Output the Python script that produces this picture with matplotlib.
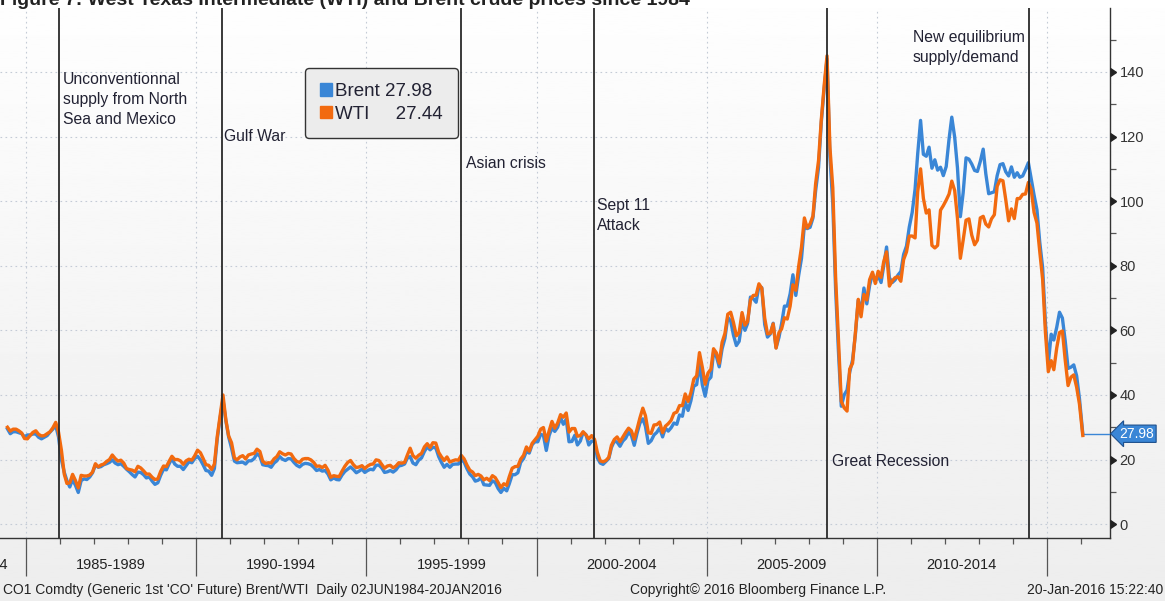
import numpy as np
import pandas as pd
import matplotlib
matplotlib.use('Agg')
import matplotlib.pyplot as plt
import matplotlib.dates as mdates
from matplotlib.patches import Patch

plt.rcParams['font.family'] = ['Liberation Sans', 'DejaVu Sans']

#%% data (monthly), Jun 1984 .. Dec 2015 + 20 Jan 2016
wti = [
    30.0, 28.8, 29.4, 29.4, 28.9, 28.2, 26.5,                               # 1984
    26.4, 27.5, 28.4, 28.9, 27.8, 27.3, 27.4, 28.0, 28.6, 29.8, 31.5, 28.5,  # 1985
    22.9, 15.4, 12.6, 12.8, 15.4, 13.5, 11.2, 15.1, 14.9, 14.9, 15.2, 16.1,  # 1986
    18.7, 17.7, 18.3, 18.6, 19.4, 20.0, 21.4, 20.3, 19.5, 19.8, 18.9, 17.2,  # 1987
    16.9, 16.7, 16.2, 17.9, 17.4, 16.5, 15.5, 15.5, 14.5, 13.8, 14.0, 16.3,  # 1988
    18.0, 17.8, 19.4, 21.0, 20.0, 20.0, 19.6, 18.5, 19.6, 20.1, 19.8, 21.1,  # 1989
    22.9, 22.1, 20.4, 18.4, 18.2, 16.9, 18.6, 27.2, 33.7, 40.0, 32.3, 27.3,  # 1990
    25.2, 20.5, 19.9, 20.8, 21.2, 20.2, 21.4, 21.7, 21.9, 23.2, 22.5, 19.5,  # 1991
    18.8, 19.0, 18.9, 20.2, 20.9, 22.4, 21.8, 21.4, 21.9, 21.7, 20.3, 19.4,  # 1992
    19.1, 20.1, 20.3, 20.3, 19.9, 19.1, 17.9, 18.0, 17.5, 18.2, 16.7, 14.5,  # 1993
    15.0, 14.8, 14.7, 16.4, 17.9, 19.1, 19.7, 18.4, 17.5, 17.7, 18.1, 17.2,  # 1994
    18.0, 18.5, 18.6, 19.9, 19.7, 18.5, 17.3, 18.0, 18.2, 17.4, 18.0, 19.0,  # 1995
    18.9, 19.1, 21.3, 23.5, 21.2, 20.4, 21.3, 21.9, 23.9, 24.9, 23.7, 25.2,  # 1996
    25.1, 22.2, 20.9, 19.7, 20.8, 19.2, 19.6, 19.9, 19.8, 21.3, 20.2, 18.3,  # 1997
    16.7, 16.1, 15.0, 15.4, 14.9, 13.7, 14.2, 13.5, 15.0, 14.4, 12.9, 11.3,  # 1998
    12.5, 12.0, 14.7, 17.3, 17.8, 17.9, 20.1, 21.3, 23.9, 22.6, 25.0, 26.1,  # 1999
    27.2, 29.4, 29.9, 25.7, 28.8, 31.8, 29.7, 31.3, 33.9, 33.1, 34.4, 28.5,  # 2000
    29.6, 29.6, 27.2, 27.4, 28.6, 27.6, 26.4, 27.4, 26.2, 22.2, 19.6, 19.3,  # 2001
    19.7, 20.7, 24.4, 26.2, 27.0, 25.5, 26.9, 28.4, 29.7, 28.9, 26.3, 29.4,  # 2002
    32.9, 35.9, 33.6, 28.3, 28.1, 30.7, 30.8, 31.6, 28.3, 30.3, 31.1, 32.1,  # 2003
    34.3, 34.7, 36.7, 36.7, 40.3, 38.0, 40.7, 44.9, 45.9, 53.1, 48.5, 43.3,  # 2004
    46.8, 48.0, 54.3, 53.0, 49.8, 56.3, 59.0, 65.0, 65.6, 62.4, 58.3, 59.4,  # 2005
    65.5, 61.6, 62.7, 69.4, 70.8, 70.9, 74.4, 73.0, 63.8, 58.9, 59.1, 62.0,  # 2006
    54.5, 59.3, 60.4, 63.9, 63.5, 67.5, 74.1, 72.4, 79.9, 85.8, 94.8, 91.7,  # 2007
    93.0, 95.4, 105.5, 112.6, 125.4, 136.0, 145.0, 116.7, 104.1, 76.6, 57.3, 38.0,  # 2008
    36.0, 35.0, 48.0, 49.8, 59.1, 69.6, 64.2, 71.1, 69.4, 75.7, 78.0, 74.5,  # 2009
    78.3, 76.4, 81.2, 84.3, 73.7, 75.3, 76.3, 76.6, 75.2, 81.9, 84.3, 89.2,  # 2010
    89.2, 88.6, 102.9, 110.0, 100.9, 96.3, 97.3, 86.3, 85.5, 86.3, 97.2, 98.6,  # 2011
    100.3, 102.2, 106.2, 103.3, 94.7, 82.3, 87.9, 94.1, 94.5, 89.5, 86.5, 87.9,  # 2012
    94.8, 95.3, 92.9, 92.0, 94.5, 95.8, 104.6, 106.6, 106.3, 100.5, 93.9, 97.6,  # 2013
    94.6, 100.8, 100.8, 102.1, 102.2, 105.8, 103.6, 96.5, 93.2, 84.4, 75.8, 59.3,  # 2014
    47.2, 50.6, 47.8, 54.5, 59.3, 59.8, 50.9, 42.9, 45.5, 46.2, 42.4, 37.2,  # 2015
    27.44,                                                                   # 20 Jan 2016
]

brent = [
    29.5, 28.0, 28.6, 28.6, 28.3, 28.0, 27.0,                               # 1984
    27.6, 27.6, 27.9, 27.9, 26.9, 26.4, 26.9, 27.4, 28.5, 29.4, 30.5, 27.0,  # 1985
    20.0, 16.0, 13.5, 11.5, 13.8, 12.0, 9.8, 13.5, 14.0, 13.8, 14.6, 15.9,   # 1986
    18.3, 17.6, 17.8, 18.4, 18.7, 19.1, 19.9, 18.9, 18.4, 18.7, 17.9, 17.0,  # 1987
    16.2, 15.3, 14.6, 16.1, 16.0, 15.3, 14.3, 14.6, 13.3, 12.3, 12.8, 15.1,  # 1988
    17.0, 16.8, 18.6, 20.3, 18.6, 17.9, 17.9, 16.9, 18.1, 19.3, 19.0, 20.3,  # 1989
    21.0, 19.9, 18.4, 16.6, 16.4, 15.1, 17.2, 26.5, 33.0, 38.5, 32.0, 27.0,  # 1990
    23.5, 19.5, 19.0, 19.1, 19.2, 18.6, 19.6, 19.6, 20.3, 21.8, 21.0, 18.4,  # 1991
    18.2, 18.1, 17.6, 18.9, 19.6, 20.9, 20.1, 19.7, 20.3, 20.2, 19.1, 18.2,  # 1992
    17.7, 18.5, 18.8, 18.7, 18.4, 17.6, 16.6, 16.9, 16.4, 16.6, 15.5, 13.7,  # 1993
    14.3, 13.8, 13.7, 15.2, 16.3, 17.0, 17.7, 16.9, 15.9, 16.4, 17.0, 16.0,  # 1994
    16.6, 17.0, 16.8, 18.2, 18.3, 17.4, 16.0, 16.2, 16.6, 16.1, 16.8, 18.0,  # 1995
    18.2, 18.6, 20.4, 20.9, 18.9, 18.4, 19.8, 20.5, 22.5, 23.9, 23.0, 23.8,  # 1996
    23.6, 20.9, 19.2, 17.6, 18.5, 17.6, 18.5, 18.6, 18.6, 20.0, 19.2, 17.2,  # 1997
    15.5, 14.6, 13.3, 13.6, 14.4, 12.2, 12.1, 12.0, 13.4, 12.9, 11.0, 9.8,   # 1998
    11.1, 10.3, 12.5, 15.3, 15.3, 15.9, 19.1, 20.3, 22.5, 22.0, 24.6, 25.5,  # 1999
    25.5, 27.8, 27.5, 22.8, 27.4, 29.8, 28.7, 30.0, 33.0, 30.9, 32.5, 25.5,  # 2000
    25.6, 27.5, 24.5, 25.7, 28.4, 27.7, 24.5, 25.7, 25.7, 20.5, 18.9, 18.5,  # 2001
    19.4, 20.3, 23.7, 25.7, 25.4, 24.1, 25.7, 26.6, 28.4, 27.5, 24.4, 28.1,  # 2002
    31.3, 32.6, 30.3, 25.0, 25.8, 27.6, 28.4, 29.8, 27.0, 29.7, 28.8, 29.8,  # 2003
    31.3, 30.9, 33.8, 33.4, 37.9, 35.2, 38.2, 42.7, 43.2, 49.8, 43.1, 39.6,  # 2004
    44.5, 45.5, 53.1, 51.9, 48.7, 54.3, 57.5, 64.0, 62.9, 58.5, 55.3, 56.6,  # 2005
    62.9, 60.0, 62.1, 70.3, 69.8, 68.7, 73.7, 73.2, 61.8, 57.9, 58.9, 62.2,  # 2006
    54.6, 57.8, 62.0, 67.5, 67.5, 71.3, 77.2, 70.8, 77.1, 82.3, 92.5, 91.5,  # 2007
    91.9, 94.8, 103.3, 110.4, 124.6, 135.0, 144.0, 113.9, 99.1, 72.8, 53.2, 36.5,  # 2008
    40.0, 41.5, 47.0, 50.8, 58.6, 69.3, 65.8, 73.1, 68.2, 73.9, 77.5, 75.2,  # 2009
    76.9, 74.8, 79.9, 85.8, 76.3, 74.8, 75.6, 77.1, 78.2, 83.5, 86.1, 92.0,  # 2010
    96.5, 103.7, 114.6, 125.0, 114.5, 113.9, 116.7, 110.2, 112.8, 109.6, 110.5, 107.9,  # 2011
    110.7, 119.3, 126.0, 119.8, 110.3, 95.2, 102.6, 113.4, 113.0, 111.5, 109.5, 109.2,  # 2012
    112.3, 116.1, 108.5, 102.3, 102.6, 102.9, 107.9, 111.3, 111.6, 109.1, 107.8, 110.6,  # 2013
    107.4, 108.8, 107.4, 107.8, 109.7, 111.9, 106.9, 101.9, 97.3, 87.3, 79.4, 62.3,  # 2014
    49.8, 58.8, 57.0, 60.9, 65.6, 63.8, 56.8, 48.2, 48.6, 49.3, 45.9, 38.9,  # 2015
    27.98,                                                                   # 20 Jan 2016
]

dates = list(pd.date_range('1984-06-01', '2015-12-01', freq='MS') + pd.Timedelta(days=14))
dates.append(pd.Timestamp('2016-01-20'))

events = ['1985-12-20', '1990-10-01', '1997-10-15', '2001-09-11', '2008-07-20', '2014-06-25']
periods = ['1985-1989', '1990-1994', '1995-1999', '2000-2004', '2005-2009', '2010-2014']
period_mid = ['1987-07-01', '1992-07-01', '1997-07-01', '2002-07-01', '2007-07-01', '2012-07-01']

BLUE = '#3a86d6'
ORANGE = '#f26a0f'

#%% figure
W, H = 1165, 601
fig = plt.figure(figsize=(W / 100, H / 100), dpi=100, facecolor='white')

# light vertical gradient behind everything
bg = fig.add_axes([0, 0, 1, 1 - 8 / H], zorder=-5)
bg.imshow(np.linspace(0.995, 0.93, 256).reshape(-1, 1), cmap='gray', vmin=0, vmax=1,
          aspect='auto', extent=[0, 1, 0, 1])
bg.axis('off')

ax = fig.add_axes([0.0, 1 - 538 / H, 1110 / W, 530 / H])
ax.set_facecolor('none')

ax.plot(dates, brent, color=BLUE, lw=2.4, zorder=3)
ax.plot(dates, wti, color=ORANGE, lw=2.4, zorder=4)

xmin, xmax = pd.Timestamp('1984-03-27'), pd.Timestamp('2016-11-07')
ax.plot([dates[-1], xmax], [brent[-1], brent[-1]], color=BLUE, lw=1, zorder=3)
ax.set_xlim(xmin, xmax)
ax.set_ylim(-4.3, 159.8)

for d in events:
    ax.axvline(pd.Timestamp(d), color='#2a2a2a', lw=1.3, zorder=5)

# spines
for s in ['left', 'top']:
    ax.spines[s].set_visible(False)
for s in ['bottom', 'right']:
    ax.spines[s].set_color('#333333')
    ax.spines[s].set_linewidth(1)

# x axis: 5-year major ticks, yearly minor ticks, no labels
ax.xaxis.set_major_locator(mdates.YearLocator(5))
ax.xaxis.set_minor_locator(mdates.YearLocator(1))
ax.tick_params(axis='x', which='major', length=27, width=0.9, color='#555555', labelbottom=False)
ax.tick_params(axis='x', which='minor', length=4, width=0.9, color='#555555')
ax.grid(axis='x', which='major', linestyle=(0, (1.5, 3)), color='#c4cbd6', lw=0.8)

# y axis on the right
yt = list(range(0, 141, 20))
ax.yaxis.tick_right()
ax.set_yticks(yt)
ax.set_yticks(list(range(10, 160, 20)), minor=True)
ax.tick_params(axis='y', which='major', length=0, pad=7, labelsize=10.5, labelcolor='#333333')
ax.tick_params(axis='y', which='minor', length=4, width=0.9, color='#555555')
ax.grid(axis='y', which='major', linestyle=(0, (1.5, 3)), color='#c4cbd6', lw=0.8)
ax.plot(np.ones(len(yt)), yt, transform=ax.get_yaxis_transform(), marker=9, ms=5.5,
        ls='none', color='#222222', clip_on=False, zorder=6)

# last price tag
ax.annotate(f'{brent[-1]:.2f}', xy=(1.0, brent[-1]), xycoords=ax.get_yaxis_transform(),
            xytext=(7, 0), textcoords='offset points', va='center', ha='left',
            color='white', fontsize=10,
            bbox=dict(boxstyle='larrow,pad=0.12', fc=BLUE, ec='#1d4f8c', lw=0.8),
            annotation_clip=False)

# legend
handles = [Patch(color=BLUE), Patch(color=ORANGE)]
labels = [f'Brent {brent[-1]:.2f}', f'WTI     {wti[-1]:.2f}']
leg = ax.legend(handles, labels, loc='upper left', bbox_to_anchor=(305 / 1110, (538 - 68) / 530),
                borderaxespad=0, fontsize=13.5, handlelength=0.65, handleheight=0.65,
                handletextpad=0.15, labelspacing=0.3, borderpad=0.8, fancybox=True,
                framealpha=1, facecolor='#ececec', edgecolor='#333333')
leg.get_frame().set_linewidth(1.0)
for t in leg.get_texts():
    t.set_color('#222233')

# event annotations (figure pixel positions)
notes = [
    (63, 72, 'Unconventionnal\nsupply from North\nSea and Mexico'),
    (224, 129, 'Gulf War'),
    (466, 156, 'Asian crisis'),
    (597, 198, 'Sept 11\nAttack'),
    (832, 454, 'Great Recession'),
    (913, 30, 'New equilibrium\nsupply/demand'),
]
for px, py, txt in notes:
    fig.text(px / W, 1 - py / H, txt, va='top', ha='left', fontsize=11.3,
             linespacing=1.4, color='#222233')

# period labels under the axis
for lab, mid in zip(periods, period_mid):
    ax.text(pd.Timestamp(mid), -27 / 530, lab, transform=ax.get_xaxis_transform(),
            ha='center', va='center', fontsize=10.5, color='#222222')
fig.text(8 / W, 1 - 565 / H, '1984', ha='right', va='center', fontsize=10.5, color='#222222')

# footer
fig.text(3 / W, 1 - 590 / H, "CO1 Comdty (Generic 1st 'CO' Future) Brent/WTI  Daily 02JUN1984-20JAN2016",
         ha='left', va='center', fontsize=10, color='#222222')
fig.text(630 / W, 1 - 590 / H, 'Copyright\u00a9 2016 Bloomberg Finance L.P.',
         ha='left', va='center', fontsize=10, color='#222222')
fig.text(1163 / W, 1 - 590 / H, '20-Jan-2016 15:22:40',
         ha='right', va='center', fontsize=10, color='#222222')

# title, cut off by the top edge as in the source
fig.text(0.0, 1 - 5 / H, 'Figure 7: West Texas Intermediate (WTI) and Brent crude prices since 1984',
         ha='left', va='baseline', fontsize=14, weight='bold', color='#222222')

fig.savefig('out.png', dpi=100, facecolor=fig.get_facecolor())
